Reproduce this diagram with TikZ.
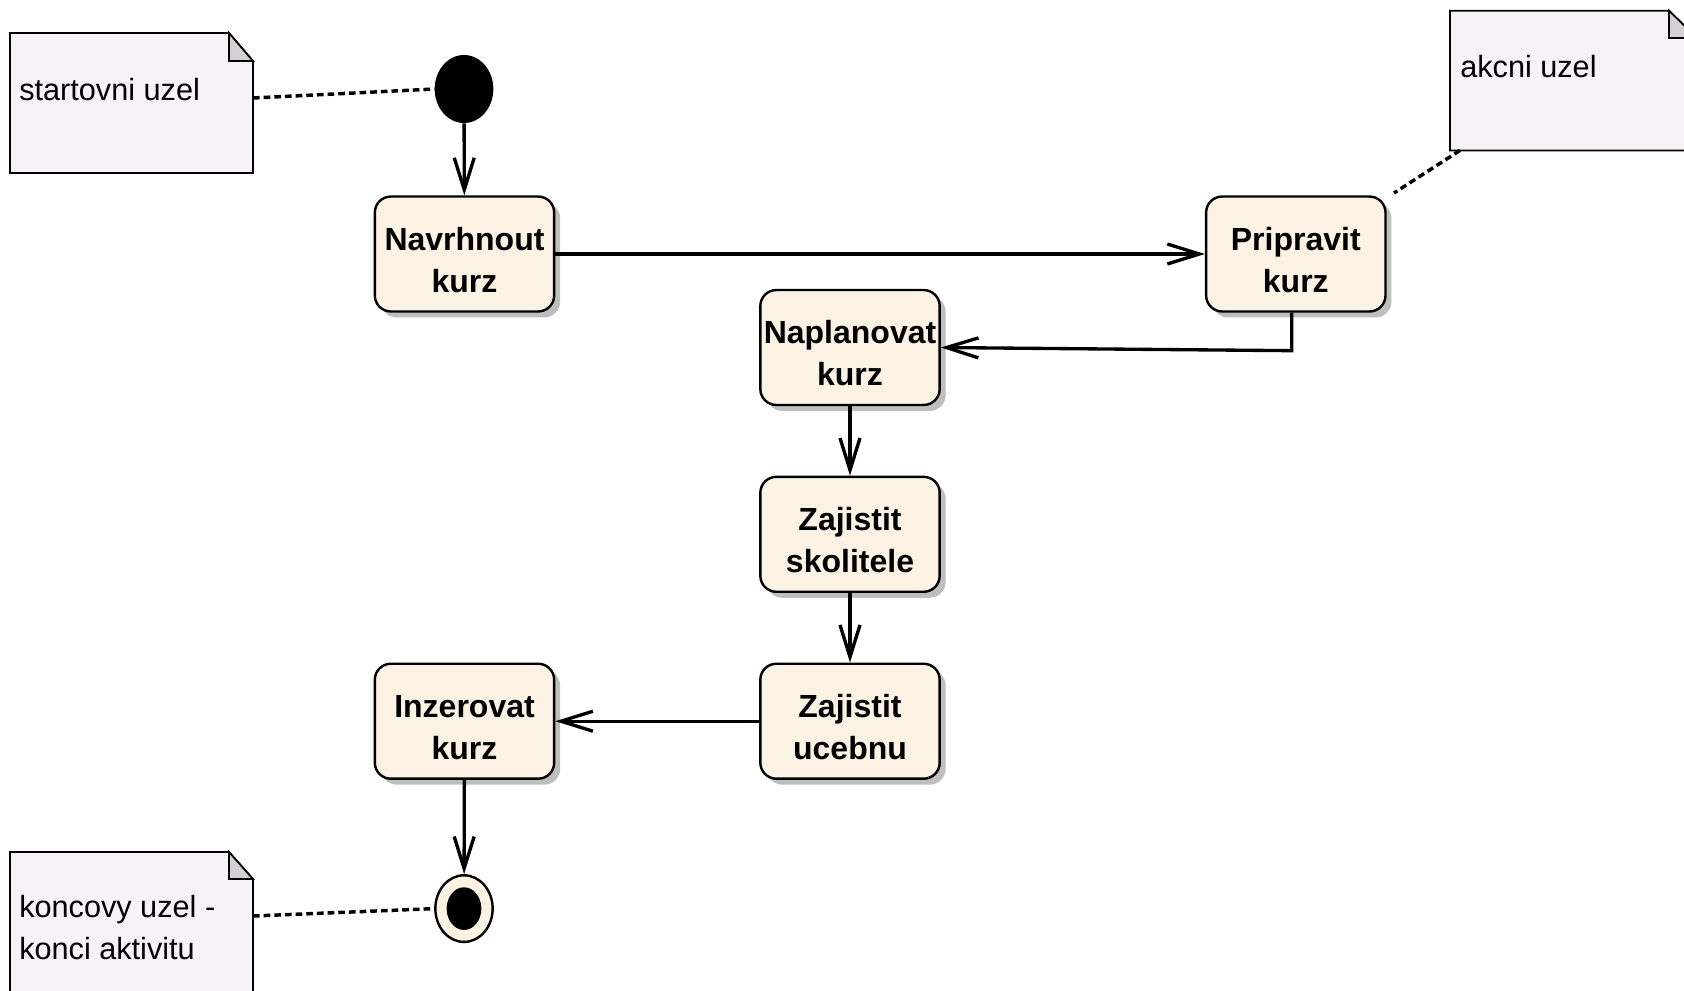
\documentclass[tikz,border=0pt]{standalone}
\usepackage{fontspec}
\setmainfont{Liberation Sans}
\usetikzlibrary{arrows.meta,shapes.geometric,shadows}
\definecolor{actfill}{RGB}{251,242,228}
\definecolor{notefill}{RGB}{246,242,246}
\definecolor{foldfill}{RGB}{212,208,212}
\definecolor{shadowgray}{RGB}{190,190,190}
\newcommand{\actxt}[2]{\rule{0pt}{27pt}#1\\#2\rule[-1.5pt]{0pt}{1.5pt}}
\begin{document}
\begin{tikzpicture}[x=0.75pt,y=-0.75pt,
  action/.style={draw=black, line width=1.8pt, fill=actfill, rounded corners=12pt,
    minimum width=134.5pt, minimum height=86.2pt, inner sep=0pt, align=center,
    font=\fontsize{24}{31.5}\selectfont\bfseries,
    drop shadow={shadow xshift=4.5pt, shadow yshift=-4.5pt, fill=shadowgray, opacity=1}},
  flow/.style={draw=black, line width=2.5pt, -{Straight Barb[length=24pt,width=15pt]}},
  notelink/.style={draw=black, line width=2.6pt, dash pattern=on 5pt off 3pt},
  notebody/.style={draw=black, line width=1.3pt, fill=notefill},
  notefold/.style={draw=black, line width=1.3pt, fill=foldfill},
  notetext/.style={inner sep=0pt, font=\fontsize{23}{31.5}\selectfont}
]
\useasboundingbox (0,0) rectangle (1684,990);
\begin{scope}
\clip (0,0) rectangle (1684,990);
\fill[white] (0,0) rectangle (1684,990);

% notes
\path[notebody] (10,33) -- (229,33) -- (253,61) -- (253,173) -- (10,173) -- cycle;
\path[notefold] (229,33) -- (253,61) -- (229,61) -- cycle;
\node[notetext, anchor=base west] (n1) at (19,100) {startovni uzel};

\path[notebody] (1450,10.7) -- (1669,10.7) -- (1697,38) -- (1697,150.4) -- (1450,150.4) -- cycle;
\path[notefold] (1669,10.7) -- (1697,38) -- (1669,38) -- cycle;
\node[notetext, anchor=base west] (n2) at (1460,77) {akcni uzel};

\path[notebody] (10,852) -- (229,852) -- (253,879) -- (253,1000) -- (10,1000) -- cycle;
\path[notefold] (229,852) -- (253,879) -- (229,879) -- cycle;
\node[notetext, align=left, anchor=north west] (n3) at (19,893) {\rule{0pt}{18pt}koncovy uzel -\\konci aktivitu};

% start / end
\node[ellipse, fill=black, minimum width=44pt, minimum height=51pt, inner sep=0pt] (init) at (464,89) {};
\node[ellipse, draw=black, line width=1.8pt, fill=actfill, minimum width=43pt, minimum height=50pt, inner sep=0pt] (fin) at (464,908.6) {};
\node[ellipse, fill=black, minimum width=26pt, minimum height=32pt, inner sep=0pt] (finc) at (fin) {};

% actions
\node[action] (navrh) at (464.5,254) {\actxt{Navrhnout}{kurz}};
\node[action] (prip) at (1295.8,254) {\actxt{Pripravit}{kurz}};
\node[action] (napl) at (850,347.5) {\actxt{Naplanovat}{kurz}};
\node[action] (skol) at (850,534.3) {\actxt{Zajistit}{skolitele}};
\node[action] (uceb) at (850,721.2) {\actxt{Zajistit}{ucebnu}};
\node[action] (inz) at (464.5,721.2) {\actxt{Inzerovat}{kurz}};

% flows
\draw[flow] (init) -- (navrh);
\draw[flow] (navrh) -- (prip);
\draw[flow] ([xshift=-3pt]prip.south) -- ++(0,38) -- (napl.east);
\draw[flow] (napl) -- (skol);
\draw[flow] (skol) -- (uceb);
\draw[flow] (uceb) -- (inz);
\draw[flow] (inz) -- (fin);

% note links
\coordinate (n1r) at (253,98);
\draw[notelink] (n1r) -- (init.west);
\coordinate (n2b) at (1460,150.4);
\coordinate (n2e) at (1394,193);
\draw[notelink] (n2b) -- (n2e);
\coordinate (n3r) at (253,916);
\draw[notelink] (n3r) -- (fin.west);
\end{scope}
\end{tikzpicture}
\end{document}
